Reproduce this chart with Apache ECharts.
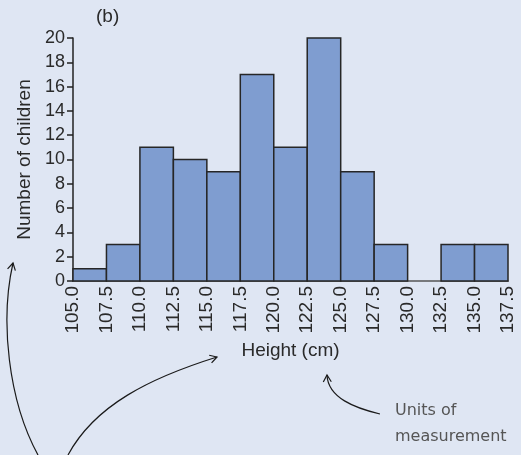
<!DOCTYPE html>
<html>
<head>
<meta charset="utf-8">
<script src="https://cdn.jsdelivr.net/npm/echarts@6/dist/echarts.min.js"></script>
<style>
html,body{margin:0;padding:0;background:#dfe6f3;}
#chart{width:521px;height:455px;}
</style>
</head>
<body>
<div id="chart"></div>
<script>
// Data
const binStarts = [105.0, 107.5, 110.0, 112.5, 115.0, 117.5, 120.0, 122.5, 125.0, 127.5, 130.0, 132.5, 135.0];
const binWidth = 2.5;
const counts = [1, 3, 11, 10, 9, 17, 11, 20, 9, 3, 0, 3, 3];
const xTickLabels = ['105.0','107.5','110.0','112.5','115.0','117.5','120.0','122.5','125.0','127.5','130.0','132.5','135.0','137.5'];
const yTicks = [0, 2, 4, 6, 8, 10, 12, 14, 16, 18, 20];
const panelLabel = '(b)';
const xTitle = 'Height (cm)';
const yTitle = 'Number of children';
const noteLines = ['Units of', 'measurement'];

const FONT = "'Liberation Sans',Arial,sans-serif";
const TXT = '#2a2a2a';

const chart = echarts.init(document.getElementById('chart'), null, {renderer: 'canvas'});

const barData = binStarts.map((s, i) => [s, s + binWidth, counts[i]]);

function arrow(p0, p1, p2, p3) {
  const dx = p3[0] - p2[0], dy = p3[1] - p2[1];
  const len = Math.hypot(dx, dy);
  const ux = dx / len, uy = dy / len;
  const L = 8, a = Math.PI / 6;
  const cos = Math.cos(a), sin = Math.sin(a);
  const b1 = [p3[0] - L * (ux * cos - uy * sin), p3[1] - L * (uy * cos + ux * sin)];
  const b2 = [p3[0] - L * (ux * cos + uy * sin), p3[1] - L * (uy * cos - ux * sin)];
  return [
    {type: 'bezierCurve', shape: {x1: p0[0], y1: p0[1], cpx1: p1[0], cpy1: p1[1], cpx2: p2[0], cpy2: p2[1], x2: p3[0], y2: p3[1]},
     style: {stroke: '#1a1a1a', lineWidth: 1.2, fill: null}, silent: true},
    {type: 'polyline', shape: {points: [b1, p3, b2]}, style: {stroke: '#1a1a1a', lineWidth: 1.2, fill: null}, silent: true}
  ];
}

const option = {
  backgroundColor: '#dfe6f3',
  animation: false,
  grid: {left: 73, right: 13, top: 38, bottom: 174, containLabel: false},
  xAxis: {
    type: 'value', min: 105, max: 137.5, interval: 2.5,
    axisLine: {show: true, onZero: false, lineStyle: {color: '#555', width: 1.5}},
    axisTick: {show: false},
    splitLine: {show: false},
    axisLabel: {
      rotate: 90, margin: 5, color: TXT, fontFamily: FONT, fontSize: 19,
      formatter: v => { const i = Math.round((v - 105) / 2.5); return xTickLabels[i] || ''; }
    },
    name: xTitle, nameLocation: 'middle', nameGap: 60,
    nameTextStyle: {color: TXT, fontFamily: FONT, fontSize: 19}
  },
  yAxis: {
    type: 'value', min: 0, max: 20, interval: 2,
    axisLine: {show: true, lineStyle: {color: '#222', width: 1.5}},
    axisTick: {show: true, inside: false, length: 6, lineStyle: {color: '#222', width: 1.5}},
    splitLine: {show: false},
    axisLabel: {margin: 8, color: TXT, fontFamily: FONT, fontSize: 18,
      formatter: v => yTicks.indexOf(v) >= 0 ? String(v) : ''},
    name: yTitle, nameLocation: 'middle', nameGap: 38, nameRotate: 90,
    nameTextStyle: {color: TXT, fontFamily: FONT, fontSize: 19}
  },
  series: [{
    type: 'custom',
    data: barData,
    encode: {x: [0, 1], y: 2},
    renderItem: function (params, api) {
      const v = api.value(2);
      if (!v) return null;
      const p0 = api.coord([api.value(0), 0]);
      const p1 = api.coord([api.value(1), v]);
      return {
        type: 'rect',
        shape: {x: p0[0], y: p1[1], width: p1[0] - p0[0], height: p0[1] - p1[1]},
        style: {fill: '#7f9dd0', stroke: '#262626', lineWidth: 1.5}
      };
    }
  }],
  graphic: [
    {type: 'text', left: 96, top: 7, style: {text: panelLabel, fill: TXT, font: "19px " + FONT}},
    {type: 'text', left: 395, top: 403, style: {text: noteLines[0], fill: '#555', font: "16px 'DejaVu Sans', sans-serif"}},
    {type: 'text', left: 395, top: 429, style: {text: noteLines[1], fill: '#555', font: "16px 'DejaVu Sans', sans-serif"}},
    ...arrow([38, 455], [8, 400], [0, 320], [13, 263]),
    ...arrow([68, 455], [95, 405], [150, 378], [217, 357]),
    ...arrow([380, 414], [355, 408], [328, 398], [327, 375])
  ]
};
chart.setOption(option);
</script>
</body>
</html>
